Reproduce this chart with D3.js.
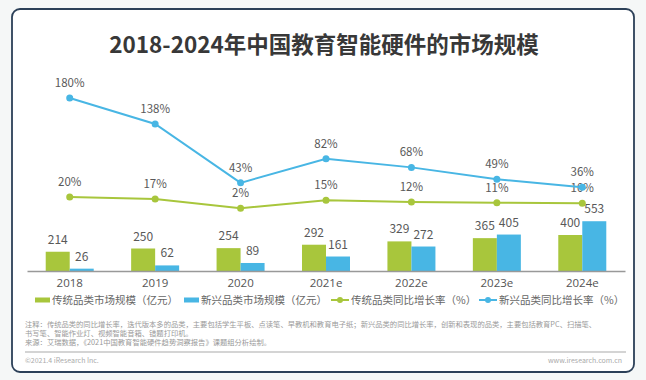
<!DOCTYPE html>
<html>
<head>
<meta charset="utf-8">
<script src="https://cdn.jsdelivr.net/npm/d3@7"></script>
<style>
  body { margin: 0; background: #f5f7f7; }
  svg { display: block; font-family: "Noto Sans CJK SC", "Noto Sans", sans-serif; }
</style>
</head>
<body>
<div id="chart"></div>
<script>
const years = ["2018", "2019", "2020", "2021e", "2022e", "2023e", "2024e"];
const tradSize = [214, 250, 254, 292, 329, 365, 400];
const newSize = [26, 62, 89, 161, 272, 405, 553];
const tradGrowth = [20, 17, 2, 15, 12, 11, 10];
const newGrowth = [180, 138, 43, 82, 68, 49, 36];
const legendLabels = ["传统品类市场规模（亿元）", "新兴品类市场规模（亿元）", "传统品类同比增长率（%）", "新兴品类同比增长率（%）"];
const notes = [
    "注释：传统品类的同比增长率，迭代版本多的品类，主要包括学生平板、点读笔、早教机和教育电子纸；新兴品类的同比增长率，创新和表现的品类，主要包括教育PC、扫描笔、",
    "书写笔、智能作业灯、视频智能音箱、错题打印机。",
    "来源：艾瑞数据，《2021中国教育智能硬件趋势洞察报告》课题组分析绘制。"
];

function init() {
    let width = 646;
    let height = 380;
    let green = "#a8c63c";
    let blue = "#48b6e4";

    let svg = d3.select("#chart")
        .append("svg")
        .attr("width", width)
        .attr("height", height);

    // card
    svg.append("rect")
        .attr("x", 12).attr("y", 9)
        .attr("width", 622).attr("height", 363)
        .attr("rx", 8)
        .attr("fill", "#fff")
        .attr("stroke", "#2c4058")
        .attr("stroke-width", 1.8);

    svg.append("text")
        .attr("x", 324).attr("y", 53)
        .attr("text-anchor", "middle")
        .attr("font-size", 22.5)
        .attr("font-weight", "bold")
        .attr("fill", "#383838")
        .text("2018-2024年中国教育智能硬件的市场规模");

    let xScale = d3.scaleBand()
        .domain(years)
        .range([27, 625]);

    let yBar = d3.scaleLinear()
        .domain([0, 600])
        .range([271, 217]);

    let yLine = d3.scaleLinear()
        .domain([0, 180])
        .range([209.5, 98]);

    let barW = 24;
    let cx = d => xScale(d) + xScale.bandwidth() / 2;

    // bars
    let g = svg.append("g");
    g.selectAll(".trad")
        .data(tradSize)
        .enter().append("rect")
        .attr("x", (d, i) => cx(years[i]) - barW)
        .attr("y", d => yBar(d))
        .attr("width", barW)
        .attr("height", d => yBar(0) - yBar(d))
        .attr("fill", green);
    g.selectAll(".new")
        .data(newSize)
        .enter().append("rect")
        .attr("x", (d, i) => cx(years[i]))
        .attr("y", d => yBar(d))
        .attr("width", barW)
        .attr("height", d => yBar(0) - yBar(d))
        .attr("fill", blue);

    g.selectAll(".tradLbl")
        .data(tradSize)
        .enter().append("text")
        .attr("x", (d, i) => cx(years[i]) - barW / 2)
        .attr("y", d => yBar(d) - 8)
        .attr("text-anchor", "middle")
        .attr("font-size", 12)
        .attr("fill", "#595959")
        .text(d => d);
    g.selectAll(".newLbl")
        .data(newSize)
        .enter().append("text")
        .attr("x", (d, i) => cx(years[i]) + barW / 2)
        .attr("y", d => yBar(d) - 8)
        .attr("text-anchor", "middle")
        .attr("font-size", 12)
        .attr("fill", "#595959")
        .text(d => d);

    // x axis
    let xAxis = svg.append("g")
        .attr("transform", "translate(0,271)")
        .call(d3.axisBottom(xScale).tickSize(0).tickPadding(8));
    xAxis.select(".domain").attr("stroke", "#999").attr("stroke-width", 1.5);
    xAxis.selectAll("text")
        .attr("font-size", 11.5)
        .attr("fill", "#555")
        .attr("font-family", "'Open Sans', 'Noto Sans', sans-serif");

    // lines
    let lines = [[tradGrowth, green], [newGrowth, blue]];
    lines.forEach(function (l) {
        let vals = l[0];
        svg.append("path")
            .datum(vals)
            .attr("fill", "none")
            .attr("stroke", l[1])
            .attr("stroke-width", 2)
            .attr("d", d3.line()
                .x((d, i) => cx(years[i]))
                .y(d => yLine(d)));
        svg.selectAll(null)
            .data(vals)
            .enter().append("circle")
            .attr("cx", (d, i) => cx(years[i]))
            .attr("cy", d => yLine(d))
            .attr("r", 3.5)
            .attr("fill", l[1]);
        svg.selectAll(null)
            .data(vals)
            .enter().append("text")
            .attr("x", (d, i) => cx(years[i]))
            .attr("y", d => yLine(d) - 11)
            .attr("text-anchor", "middle")
            .attr("font-size", 11.5)
            .attr("fill", "#595959")
            .text(d => d + "%");
    });

    // legend
    let legX = [35, 184, 331, 479];
    let legend = svg.append("g").attr("transform", "translate(0,300)");
    legendLabels.forEach(function (t, i) {
        let c = (i % 2 == 0) ? green : blue;
        if (i < 2) {
            legend.append("rect")
                .attr("x", legX[i]).attr("y", -2.5)
                .attr("width", 15).attr("height", 5)
                .attr("fill", c);
        } else {
            legend.append("line")
                .attr("x1", legX[i]).attr("x2", legX[i] + 18)
                .attr("y1", 0).attr("y2", 0)
                .attr("stroke", c).attr("stroke-width", 2);
            legend.append("circle")
                .attr("cx", legX[i] + 9).attr("cy", 0)
                .attr("r", 3).attr("fill", c);
        }
        legend.append("text")
            .attr("x", legX[i] + (i < 2 ? 17 : 20))
            .attr("y", 4)
            .attr("font-size", 10.5)
            .attr("fill", "#666")
            .text(t);
    });

    // notes
    svg.selectAll(".note")
        .data(notes)
        .enter().append("text")
        .attr("x", 25)
        .attr("y", (d, i) => 327 + i * 9)
        .attr("font-size", 7.3)
        .attr("fill", "#999")
        .text(d => d);

    svg.append("line")
        .attr("x1", 25).attr("x2", 626)
        .attr("y1", 352).attr("y2", 352)
        .attr("stroke", "#aaa").attr("stroke-width", 1.2);

    svg.append("text")
        .attr("x", 25).attr("y", 363)
        .attr("font-size", 7).attr("fill", "#aaa")
        .text("©2021.4 iResearch Inc.");
    svg.append("text")
        .attr("x", 622).attr("y", 363)
        .attr("text-anchor", "end")
        .attr("font-size", 7).attr("fill", "#aaa")
        .text("www.iresearch.com.cn");
}

window.addEventListener('load', init);
</script>
</body>
</html>
